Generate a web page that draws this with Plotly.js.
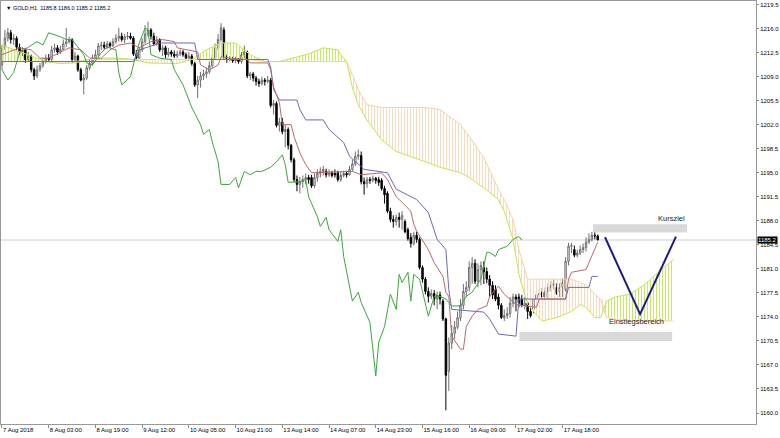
<!DOCTYPE html>
<html><head><meta charset="utf-8">
<script src="https://cdn.plot.ly/plotly-3.0.1.min.js"></script>
<style>html,body{margin:0;padding:0;background:#fff}#chart{width:780px;height:438px}</style>
</head><body><div id="chart"></div>
<script>
const open = [1210.7,1213.2,1214.6,1215.4,1214.4,1214.6,1213.3,1212.6,1212.9,1211.5,
1212.0,1210.0,1209.1,1210.0,1210.6,1211.2,1211.7,1211.5,1212.9,1213.2,
1212.6,1213.0,1213.8,1214.1,1214.4,1211.5,1212.0,1210.0,1208.5,1208.8,
1210.3,1210.9,1211.7,1212.2,1213.5,1213.6,1213.3,1213.8,1213.5,1214.1,
1214.6,1214.9,1214.4,1214.8,1214.9,1214.6,1212.3,1211.7,1212.9,1214.1,
1215.2,1215.8,1214.9,1213.8,1214.4,1212.9,1213.2,1212.2,1212.6,1212.3,
1212.0,1212.3,1212.6,1212.2,1211.7,1212.0,1210.9,1207.8,1208.5,1209.1,
1209.4,1209.7,1210.6,1211.7,1213.2,1214.4,1215.8,1211.9,1211.5,1211.6,
1211.3,1211.5,1211.2,1212.2,1212.5,1209.1,1209.4,1208.8,1208.3,1208.0,
1208.5,1208.3,1208.5,1204.8,1205.1,1201.9,1202.4,1201.0,1201.3,1199.0,
1196.9,1194.0,1193.3,1193.7,1194.0,1194.3,1194.3,1193.1,1194.3,1194.9,
1195.2,1195.2,1194.7,1195.0,1194.9,1195.0,1194.0,1194.6,1194.9,1194.7,
1195.5,1196.3,1197.4,1197.5,1193.7,1193.4,1194.0,1193.9,1194.2,1194.0,
1193.9,1192.7,1192.0,1189.4,1188.2,1187.9,1188.5,1188.2,1187.9,1186.7,
1185.6,1184.7,1185.9,1185.3,1181.2,1179.5,1177.7,1177.0,1177.4,1176.6,
1177.2,1176.3,1173.7,1166.1,1170.2,1171.6,1172.5,1173.9,1175.7,1177.7,
1178.3,1181.2,1181.8,1179.2,1180.9,1181.2,1180.6,1179.5,1178.6,1178.0,
1176.9,1175.7,1173.9,1174.2,1174.5,1176.0,1176.9,1176.9,1176.6,1175.7,
1176.0,1174.8,1175.1,1176.6,1177.2,1177.6,1176.9,1177.7,1178.3,1178.6,
1178.3,1177.7,1178.3,1178.0,1182.1,1184.3,1183.8,1183.0,1183.3,1183.8,
1184.1,1184.9,1185.3,1185.9,1185.8];
const high = [1213.6,1215.8,1216.1,1215.8,1215.2,1214.9,1213.8,1213.3,1213.2,1212.6,
1212.2,1210.3,1210.6,1211.0,1211.7,1212.2,1212.3,1213.5,1213.8,1213.6,
1213.5,1214.4,1216.1,1214.8,1214.6,1212.6,1212.2,1210.3,1209.4,1210.7,
1211.5,1212.2,1212.9,1213.9,1214.1,1214.1,1214.2,1214.1,1214.6,1215.2,
1216.1,1215.4,1215.2,1215.5,1215.4,1214.9,1212.9,1213.3,1214.6,1216.5,
1217.0,1216.1,1215.4,1214.9,1214.6,1213.6,1213.5,1213.2,1212.9,1212.8,
1212.8,1213.0,1212.9,1212.5,1212.6,1212.3,1211.2,1209.1,1209.7,1210.0,
1210.3,1211.2,1212.3,1213.8,1215.2,1216.8,1216.2,1212.2,1212.0,1211.9,
1211.9,1211.7,1212.6,1213.5,1212.8,1209.7,1209.7,1209.1,1208.7,1209.0,
1208.8,1209.1,1208.8,1205.6,1205.4,1203.0,1203.0,1202.0,1201.6,1199.2,
1197.2,1194.6,1194.4,1194.6,1194.9,1194.7,1194.7,1194.9,1195.5,1195.8,
1196.0,1195.6,1195.5,1195.3,1195.5,1195.3,1195.2,1195.3,1195.3,1196.0,
1196.9,1198.1,1198.4,1198.1,1194.3,1194.4,1194.4,1194.6,1194.4,1194.4,
1194.2,1193.1,1192.3,1189.9,1188.8,1188.9,1189.2,1189.4,1188.2,1187.0,
1186.2,1186.4,1186.4,1185.6,1181.5,1179.8,1178.3,1178.0,1177.9,1177.7,
1177.7,1176.6,1173.9,1171.0,1172.8,1173.4,1174.8,1176.6,1178.8,1179.2,
1182.1,1182.7,1182.4,1181.8,1182.1,1182.1,1181.2,1180.1,1179.2,1178.6,
1177.4,1176.0,1175.1,1175.4,1176.9,1177.4,1177.3,1177.4,1177.2,1176.9,
1176.3,1175.4,1177.2,1177.7,1178.0,1178.2,1178.3,1178.9,1179.2,1179.5,
1178.9,1178.9,1179.6,1182.7,1184.8,1184.8,1184.4,1183.8,1184.4,1184.7,
1185.6,1186.2,1186.4,1186.4,1186.0];
const low = [1210.0,1212.9,1214.1,1213.8,1213.6,1212.9,1212.2,1212.0,1211.0,1211.2,
1209.6,1208.5,1208.8,1209.7,1210.3,1210.9,1211.2,1211.2,1212.5,1212.2,
1212.3,1212.9,1213.3,1213.8,1211.0,1211.2,1209.7,1208.3,1206.4,1208.5,
1210.0,1210.6,1211.5,1211.9,1212.9,1213.0,1213.0,1213.2,1213.3,1213.8,
1214.1,1214.1,1213.9,1214.4,1214.4,1212.0,1211.3,1211.5,1212.6,1213.8,
1214.8,1214.4,1213.5,1213.5,1212.6,1212.0,1211.7,1211.9,1211.9,1211.7,
1211.7,1212.0,1211.9,1211.5,1211.5,1210.6,1207.5,1205.9,1207.4,1208.5,
1208.8,1209.4,1210.3,1211.5,1212.9,1214.1,1211.6,1211.0,1211.2,1211.0,
1211.0,1210.9,1210.9,1211.7,1208.8,1208.5,1208.3,1207.7,1207.5,1207.7,
1207.7,1208.0,1204.5,1203.5,1201.6,1201.0,1200.6,1198.7,1198.4,1196.5,
1193.6,1192.3,1192.0,1192.8,1193.3,1193.4,1192.8,1192.8,1193.7,1194.3,
1194.6,1194.3,1194.4,1194.3,1194.3,1193.7,1193.7,1194.3,1194.3,1194.6,
1195.2,1196.0,1196.9,1193.3,1191.8,1192.8,1193.4,1193.6,1193.4,1193.1,
1192.4,1190.5,1189.1,1187.8,1187.0,1187.3,1187.0,1186.7,1186.2,1185.1,
1184.1,1184.4,1184.8,1180.9,1179.0,1177.3,1176.1,1176.6,1175.7,1175.1,
1175.8,1173.4,1160.4,1163.2,1169.3,1170.8,1172.2,1173.4,1175.1,1176.9,
1177.7,1178.8,1178.8,1178.3,1178.6,1178.8,1178.9,1176.9,1176.6,1176.3,
1175.1,1173.7,1173.4,1173.7,1173.9,1175.4,1174.8,1175.4,1175.4,1175.1,
1173.7,1173.9,1174.5,1176.3,1176.6,1176.6,1176.4,1176.6,1177.7,1178.0,
1177.2,1176.9,1176.9,1177.7,1181.5,1183.3,1182.7,1182.7,1183.0,1183.3,
1183.5,1184.6,1185.0,1185.3,1185.2];
const close = [1213.2,1214.6,1215.4,1214.4,1214.6,1213.3,1212.6,1212.9,1211.5,1212.0,
1210.0,1209.1,1210.0,1210.6,1211.2,1211.7,1211.5,1212.9,1213.2,1212.6,
1213.0,1213.8,1214.1,1214.4,1211.5,1212.0,1210.0,1208.5,1208.8,1210.3,
1210.9,1211.7,1212.2,1213.5,1213.6,1213.3,1213.8,1213.5,1214.1,1214.6,
1214.9,1214.4,1214.8,1214.9,1214.6,1212.3,1211.7,1212.9,1214.1,1215.2,
1215.8,1214.9,1213.8,1214.4,1212.9,1213.2,1212.2,1212.6,1212.3,1212.0,
1212.3,1212.6,1212.2,1211.7,1212.0,1210.9,1207.8,1208.5,1209.1,1209.4,
1209.7,1210.6,1211.7,1213.2,1214.4,1216.1,1211.9,1211.5,1211.6,1211.3,
1211.5,1211.2,1212.2,1212.6,1209.1,1209.4,1208.8,1208.3,1208.0,1208.5,
1208.3,1208.5,1204.8,1205.1,1201.9,1202.4,1201.0,1201.3,1199.0,1196.9,
1194.0,1193.3,1193.7,1194.0,1194.3,1194.0,1193.1,1194.3,1194.9,1195.2,
1195.5,1194.7,1195.0,1194.6,1194.7,1194.0,1194.6,1194.9,1194.7,1195.5,
1196.3,1197.4,1197.6,1193.7,1193.4,1194.0,1193.9,1194.2,1193.9,1193.6,
1192.7,1191.8,1189.4,1188.2,1187.9,1188.5,1188.2,1188.8,1186.4,1185.4,
1184.7,1185.9,1185.3,1181.2,1179.5,1177.7,1177.0,1177.4,1176.6,1177.2,
1176.6,1173.7,1165.5,1170.2,1171.6,1172.5,1173.9,1175.7,1177.7,1178.3,
1181.2,1181.8,1179.2,1180.9,1181.5,1180.6,1179.5,1178.6,1177.2,1176.6,
1175.7,1173.9,1174.2,1174.5,1176.0,1176.9,1176.6,1176.0,1175.7,1176.0,
1174.8,1174.2,1176.6,1177.2,1177.4,1176.9,1177.7,1178.3,1178.6,1178.9,
1177.4,1178.3,1179.0,1182.1,1184.3,1184.4,1183.0,1183.3,1183.8,1184.1,
1184.9,1185.3,1185.9,1185.8,1185.2];

// Ichimoku lines (bar index, price)
const tenkanBars = [0,6,10,13,16,20,23,27,30,34,37,40,44,47,51,55,59,60,67,68,71,74,75,78,84,85,91,92,93,95,96,99,100,102,104,106,120,123,130,132,135,137,140,141,142,146,148,151,152,153,154,157,158,159,161,163,166,167,170,172,176,183,184,193,194,195,200,201,204];
const tenkanVals = [1212.2,1213.2,1212.9,1211.7,1211.7,1212.6,1213.2,1212.9,1211.7,1211.7,1212.9,1213.6,1213.9,1213.2,1214.1,1214.4,1214.1,1213.2,1212.6,1210.7,1210.0,1210.7,1211.9,1211.7,1211.5,1211.0,1211.0,1210.0,1207.5,1205.2,1202.0,1202.0,1200.3,1197.9,1196.2,1195.0,1195.2,1194.7,1195.0,1194.0,1191.5,1190.7,1189.4,1187.5,1186.5,1183.8,1181.9,1179.9,1177.6,1177.0,1171.2,1169.3,1169.3,1172.6,1174.1,1175.1,1175.6,1177.0,1178.5,1177.3,1175.8,1175.4,1176.6,1176.6,1179.5,1180.5,1180.9,1181.9,1184.9];
const kijunBars = [0,45,47,54,66,67,91,92,93,95,101,102,104,110,112,117,119,124,132,135,142,146,149,152,153,154,165,167,170,176,177,193,194,201,202,204];
const kijunVals = [1211.2,1211.2,1212.9,1213.9,1213.9,1211.5,1211.5,1210.4,1207.1,1205.6,1205.6,1204.2,1202.7,1202.7,1201.3,1199.4,1197.4,1195.5,1195.0,1192.6,1191.1,1189.2,1185.3,1183.8,1178.0,1175.1,1174.7,1173.7,1171.5,1171.2,1176.6,1176.6,1178.3,1178.3,1179.9,1179.9];
const chikouBars = [0,2,4,6,9,12,14,16,20,22,24,26,28,29,31,34,36,39,40,41,44,45,46,47,49,50,51,54,58,59,62,64,65,68,69,71,72,74,75,78,80,81,83,85,87,89,92,94,96,97,98,102,104,105,108,109,111,112,115,116,117,120,122,123,124,126,128,129,131,133,135,136,137,139,140,141,143,146,148,150,152,154,157,159,161,164,166,167,169,170,173,175,177,178];
const chikouVals = [1210.0,1208.5,1209.6,1212.5,1213.3,1214.1,1213.6,1215.4,1214.8,1214.4,1214.4,1213.3,1212.2,1211.0,1210.7,1212.5,1213.3,1212.9,1209.6,1207.8,1209.0,1210.7,1212.5,1213.9,1216.1,1215.8,1212.2,1211.7,1211.5,1210.0,1207.8,1205.6,1204.5,1202.0,1200.6,1201.3,1199.5,1196.6,1193.3,1193.3,1194.3,1192.8,1195.2,1194.7,1195.2,1195.2,1195.8,1196.6,1197.6,1196.2,1193.6,1193.7,1194.0,1191.5,1188.6,1187.2,1188.5,1186.7,1185.0,1186.7,1182.8,1176.3,1177.6,1176.1,1175.1,1173.2,1165.4,1170.3,1172.6,1177.3,1175.1,1180.2,1179.0,1180.5,1176.3,1180.2,1179.5,1174.1,1177.0,1177.0,1176.6,1175.6,1175.6,1177.0,1177.6,1179.5,1183.4,1183.4,1182.8,1183.8,1184.3,1185.3,1185.7,1185.2];
const cloudBars = [0,5,10,15,20,25,30,35,40,45,50,55,60,65,70,75,80,85,90,95,100,105,110,115,116,118,120,122,125,130,135,140,145,150,155,157,160,165,170,172,175,177,180,185,190,195,198,200,203,205,207,210,215,220,225,230];
const spanA = [1213.6,1212.8,1211.9,1211.2,1210.9,1211.0,1211.5,1211.7,1211.7,1211.5,1211.0,1210.9,1210.9,1211.5,1212.9,1213.9,1213.9,1212.2,1211.2,1211.2,1211.7,1212.3,1213.2,1212.9,1212.2,1211.2,1207.4,1204.9,1202.7,1199.8,1198.1,1197.4,1196.6,1195.8,1195.2,1195.0,1194.3,1192.8,1191.1,1189.4,1185.3,1180.2,1175.8,1173.4,1173.9,1174.8,1175.8,1175.4,1173.9,1173.9,1176.3,1176.9,1177.3,1178.7,1180.6,1182.4];
const spanB = [1211.2,1211.2,1211.2,1211.2,1211.2,1211.2,1211.5,1211.5,1211.5,1211.5,1211.5,1211.5,1211.5,1211.5,1211.5,1211.5,1211.5,1211.5,1211.2,1211.2,1211.2,1211.2,1211.2,1211.2,1211.2,1211.2,1209.3,1207.1,1204.9,1204.5,1204.5,1204.5,1204.5,1204.2,1202.7,1202.0,1200.3,1197.2,1192.6,1191.1,1188.2,1183.8,1179.5,1179.5,1179.5,1179.5,1179.0,1178.7,1177.3,1176.6,1173.9,1173.7,1173.4,1173.4,1173.4,1173.4];

const tickBars = [0,16,32,48,64,80,96,112,128,144,160,176,192];
const tickLabels = ['7 Aug 2018','8 Aug 03:00','8 Aug 19:00','9 Aug 12:00','10 Aug 05:00','10 Aug 21:00','13 Aug 14:00','14 Aug 07:00','14 Aug 23:00','15 Aug 16:00','16 Aug 09:00','17 Aug 02:00','17 Aug 18:00'];
const priceTicks = [1160.0,1163.5,1167.0,1170.5,1174.0,1177.5,1181.0,1184.5,1188.0,1191.5,1195.0,1198.5,1202.0,1205.5,1209.0,1212.5,1216.0,1219.5];
const lastPrice = 1185.2;
const header = 'GOLD,H1  1185.8 1186.0 1185.2 1185.2';

const bars = open.map((_, i) => i);
const cloudTop = spanA.map((a, i) => Math.max(a, spanB[i]));
const GREEN = '#c6eb5c', PEACH = '#f6dcbc';
const hatch = c => ({shape: '|', fgcolor: c, bgcolor: 'rgba(255,255,255,0)', size: 3, solidity: 0.34});
const noLine = {width: 0, color: 'rgba(0,0,0,0)'};

const traces = [
  {type:'scatter', mode:'lines', x:cloudBars, y:spanB, line:noLine, hoverinfo:'skip'},
  {type:'scatter', mode:'lines', x:cloudBars, y:cloudTop, line:noLine, fill:'tonexty', fillcolor:'rgba(0,0,0,0)', fillpattern:hatch(GREEN), hoverinfo:'skip'},
  {type:'scatter', mode:'lines', x:cloudBars, y:spanA, line:noLine, hoverinfo:'skip'},
  {type:'scatter', mode:'lines', x:cloudBars, y:cloudTop, line:noLine, fill:'tonexty', fillcolor:'rgba(0,0,0,0)', fillpattern:hatch(PEACH), hoverinfo:'skip'},
  {type:'scatter', mode:'lines', x:cloudBars, y:spanB, line:{color:'#f0d4ac', width:1}, hoverinfo:'skip'},
  {type:'scatter', mode:'lines', x:cloudBars, y:spanA, line:{color:'#c2e64e', width:1}, hoverinfo:'skip'},
  {type:'scatter', mode:'lines', x:chikouBars, y:chikouVals, line:{color:'#3da63d', width:1}, hoverinfo:'skip'},
  {type:'scatter', mode:'lines', x:kijunBars, y:kijunVals, line:{color:'#6a6ab8', width:1}, hoverinfo:'skip'},
  {type:'scatter', mode:'lines', x:tenkanBars, y:tenkanVals, line:{color:'#b96a6a', width:1}, hoverinfo:'skip'},
  {type:'candlestick', x:bars, open:open, high:high, low:low, close:close,
   increasing:{line:{color:'#6e6e6e', width:1}, fillcolor:'#ffffff'},
   decreasing:{line:{color:'#000000', width:1}, fillcolor:'#000000'},
   whiskerwidth:0, hoverinfo:'skip'}
];

const layout = {
  width:780, height:438, showlegend:false,
  paper_bgcolor:'#ffffff', plot_bgcolor:'#ffffff',
  margin:{l:1, r:24, t:1, b:14},
  font:{family:'Liberation Sans, Arial, sans-serif', size:6, color:'#000'},
  boxgap:0.3,
  xaxis:{range:[-0.34, 258.2], showgrid:false, zeroline:false, rangeslider:{visible:false},
    tickmode:'array', tickvals:tickBars, ticktext:tickLabels, tickangle:0, ticks:'outside', ticklen:3, tickcolor:'#888',
    ticklabelposition:'outside right', showline:true, mirror:true, linecolor:'#999', linewidth:1,
    tickfont:{size:6}},
  yaxis:{range:[1158.40, 1220.02], side:'right', showgrid:false, zeroline:false,
    tickmode:'array', tickvals:priceTicks, ticktext:priceTicks.map(v => v.toFixed(1)),
    ticks:'outside', ticklen:2, tickcolor:'#888', showline:true, mirror:true, linecolor:'#999', linewidth:1,
    tickfont:{size:6}},
  shapes:[
    {type:'line', xref:'paper', x0:0, x1:1, yref:'y', y0:lastPrice, y1:lastPrice, line:{color:'#cfcfcf', width:1}, layer:'below'},
    {type:'rect', xref:'x', yref:'y', x0:202.4, x1:234.6, y0:1186.3, y1:1187.5, fillcolor:'#d9d9d9', line:{width:0}},
    {type:'rect', xref:'x', yref:'y', x0:177.2, x1:229.5, y0:1170.5, y1:1171.8, fillcolor:'#d9d9d9', line:{width:0}},
    {type:'path', xref:'x', yref:'y', path:'M 206.5 1185.6 L 218.5 1174.4 L 230.8 1185.7', line:{color:'#1b1b8c', width:2}}
  ],
  annotations:[
    {xref:'paper', yref:'paper', x:0.004, y:0.995, xanchor:'left', yanchor:'top', showarrow:false,
     text:'\u25BC ' + header, font:{size:5.5, color:'#000'}},
    {xref:'x', yref:'y', x:234.6, y:1188.4, xanchor:'right', yanchor:'middle', showarrow:false,
     text:'Kursziel', font:{size:7.5, color:'#222'}},
    {xref:'x', yref:'y', x:217.3, y:1173.3, xanchor:'center', yanchor:'middle', showarrow:false,
     text:'Einstiegsbereich', font:{size:7.5, color:'#222'}},
    {xref:'paper', yref:'y', x:1, y:lastPrice, xanchor:'left', yanchor:'middle', showarrow:false,
     text:lastPrice.toFixed(1), bgcolor:'#000', font:{size:6, color:'#fff'}, borderpad:0, xshift:1}
  ]
};

Plotly.newPlot('chart', traces, layout, {displayModeBar:false, staticPlot:true});
</script></body></html>
